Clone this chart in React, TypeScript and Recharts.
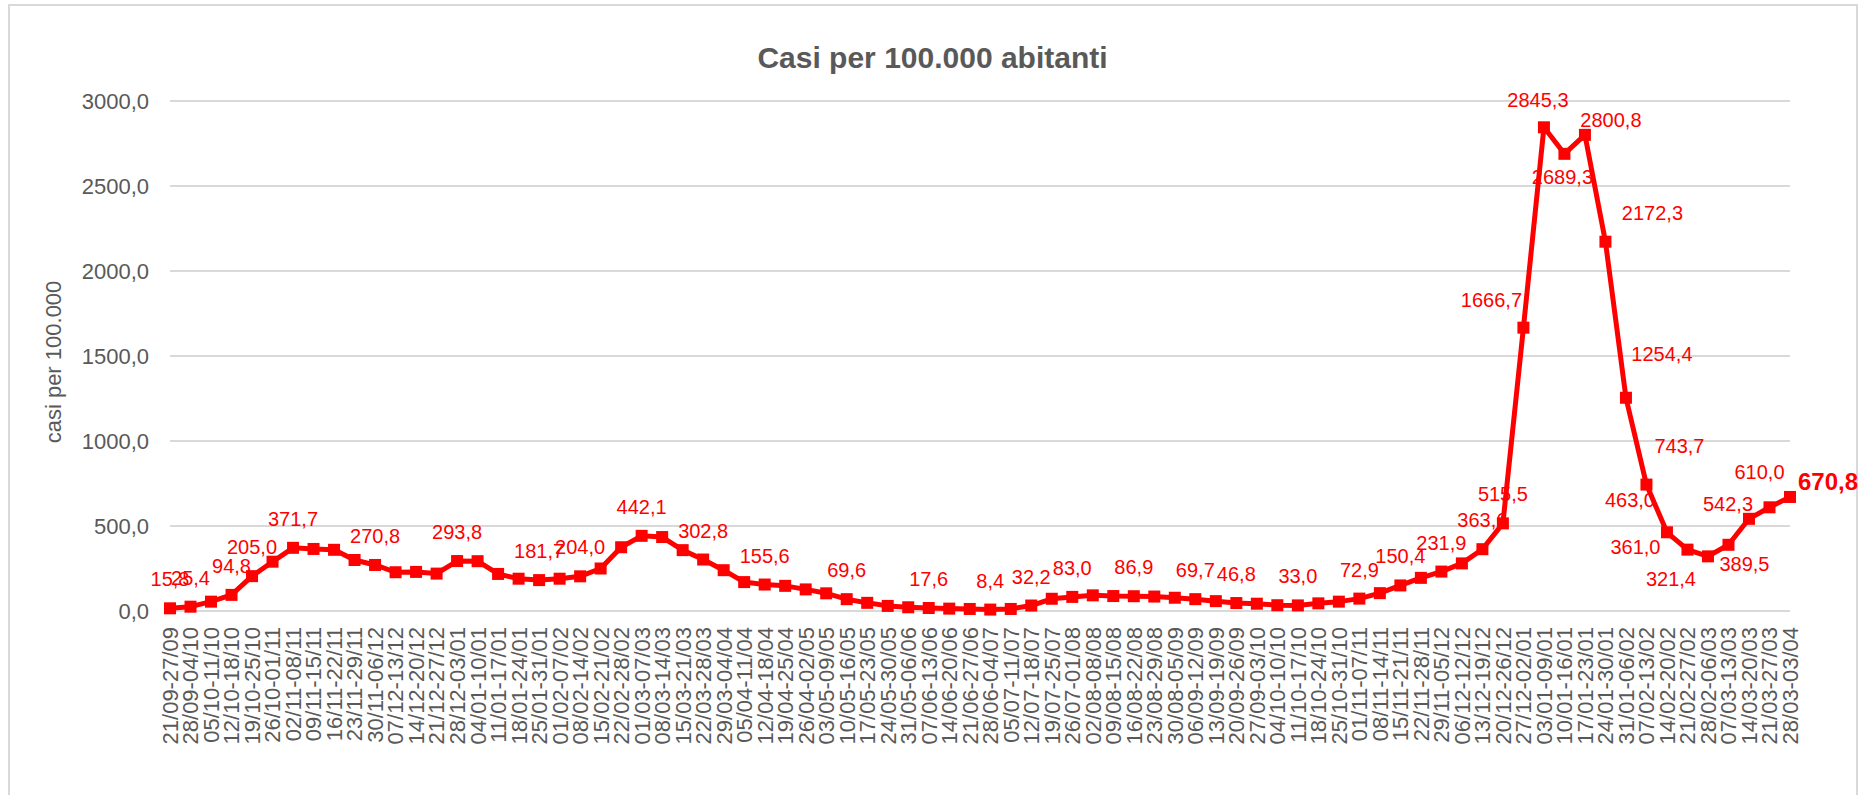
import React from 'react';
import { LineChart, Line, XAxis, YAxis, CartesianGrid } from 'recharts';

// Weekly periods
const weeks = [
  '21/09-27/09', '28/09-04/10', '05/10-11/10', '12/10-18/10', '19/10-25/10', '26/10-01/11',
  '02/11-08/11', '09/11-15/11', '16/11-22/11', '23/11-29/11', '30/11-06/12', '07/12-13/12',
  '14/12-20/12', '21/12-27/12', '28/12-03/01', '04/01-10/01', '11/01-17/01', '18/01-24/01',
  '25/01-31/01', '01/02-07/02', '08/02-14/02', '15/02-21/02', '22/02-28/02', '01/03-07/03',
  '08/03-14/03', '15/03-21/03', '22/03-28/03', '29/03-04/04', '05/04-11/04', '12/04-18/04',
  '19/04-25/04', '26/04-02/05', '03/05-09/05', '10/05-16/05', '17/05-23/05', '24/05-30/05',
  '31/05-06/06', '07/06-13/06', '14/06-20/06', '21/06-27/06', '28/06-04/07', '05/07-11/07',
  '12/07-18/07', '19/07-25/07', '26/07-01/08', '02/08-08/08', '09/08-15/08', '16/08-22/08',
  '23/08-29/08', '30/08-05/09', '06/09-12/09', '13/09-19/09', '20/09-26/09', '27/09-03/10',
  '04/10-10/10', '11/10-17/10', '18/10-24/10', '25/10-31/10', '01/11-07/11', '08/11-14/11',
  '15/11-21/11', '22/11-28/11', '29/11-05/12', '06/12-12/12', '13/12-19/12', '20/12-26/12',
  '27/12-02/01', '03/01-09/01', '10/01-16/01', '17/01-23/01', '24/01-30/01', '31/01-06/02',
  '07/02-13/02', '14/02-20/02', '21/02-27/02', '28/02-06/03', '07/03-13/03', '14/03-20/03',
  '21/03-27/03', '28/03-03/04',
];

// casi per 100.000 abitanti
const casi = [
  15.8, 25.4, 55, 94.8, 205.0, 290, 371.7, 365, 360, 300,
  270.8, 228, 230, 220, 293.8, 293, 218, 190, 181.7, 190,
  204.0, 250, 375, 442.1, 435, 358, 302.8, 240, 170, 155.6,
  148, 127, 104, 69.6, 48, 30, 22, 17.6, 14, 12,
  8.4, 12, 32.2, 72, 83.0, 92, 88, 86.9, 85, 78,
  69.7, 58, 46.8, 43, 34, 33.0, 45, 55, 72.9, 105,
  150.4, 195, 231.9, 280, 363.6, 515.5, 1666.7, 2845.3, 2689.3, 2800.8,
  2172.3, 1254.4, 743.7, 463.0, 361.0, 321.4, 389.5, 542.3, 610.0, 670.8,
];

// which points carry a data label
const labeled = [
  0, 1, 3, 4, 6, 10, 14, 18, 20, 23, 26, 29, 33, 37, 40, 42, 44, 47, 50, 52,
  55, 58, 60, 62, 64, 65, 66, 67, 68, 69, 70, 71, 72, 73, 74, 75, 76, 77, 78, 79,
];

const yTicks = [0, 500, 1000, 1500, 2000, 2500, 3000];

// label placement (offset of label centre from the point), default is above
const labelPos: Record<number, { dx: number; dy: number }> = {
  66: { dx: -32, dy: -28 },
  67: { dx: -6, dy: -27 },
  68: { dx: -2, dy: 23 },
  69: { dx: 26, dy: -15 },
  70: { dx: 47, dy: -29 },
  71: { dx: 36, dy: -44 },
  72: { dx: 33, dy: -39 },
  73: { dx: -37, dy: -32 },
  74: { dx: -52, dy: -3 },
  75: { dx: -37, dy: 23 },
  76: { dx: 16, dy: 19 },
  77: { dx: -21, dy: -15 },
  78: { dx: -10, dy: -35 },
  79: { dx: 38, dy: -15 },
};

const FONT = '"Liberation Sans", Arial, sans-serif';
const GRAY = '#595959';
const RED = '#ff0000';

const fmt = (v: number) => v.toFixed(1).replace('.', ',');

const data = weeks.map((w, i) => ({ name: w, value: casi[i] }));

const XTick = (props: any) => {
  const { x, y, payload } = props;
  return (
    <text
      x={x}
      y={y}
      transform={`rotate(-90, ${x}, ${y})`}
      textAnchor="end"
      dy="0.36em"
      fill={GRAY}
      fontSize={22}
      fontFamily={FONT}
    >
      {payload.value}
    </text>
  );
};

const SquareDot = (props: any) => {
  const { cx, cy, index } = props;
  if (cx == null || cy == null) return <g key={`d-${index}`} />;
  return <rect key={`d-${index}`} x={cx - 6} y={cy - 6} width={12} height={12} fill={RED} />;
};

const LabelDot = (props: any) => {
  const { cx, cy, index, payload } = props;
  if (!labeled.includes(index) || cx == null) return <g key={`l-${index}`} />;
  const pos = labelPos[index] ?? { dx: 0, dy: -29 };
  const last = index === casi.length - 1;
  return (
    <text
      key={`l-${index}`}
      x={cx + pos.dx}
      y={cy + pos.dy}
      textAnchor="middle"
      dominantBaseline="central"
      fill={RED}
      fontSize={last ? 24 : 20}
      fontWeight={last ? 700 : 400}
      fontFamily={FONT}
    >
      {fmt(payload.value)}
    </text>
  );
};

export default function App() {
  return (
    <div
      style={{
        position: 'absolute',
        left: 0,
        top: 0,
        width: 1865,
        height: 795,
        overflow: 'hidden',
        background: '#fff',
        fontFamily: FONT,
      }}
    >
      <div
        style={{
          position: 'absolute',
          left: 8,
          top: 4,
          width: 1846,
          height: 820,
          border: '2px solid #d9d9d9',
        }}
      />
      <div
        style={{
          position: 'absolute',
          left: 0,
          top: 43,
          width: 1865,
          textAlign: 'center',
          fontSize: 30,
          lineHeight: 1,
          fontWeight: 700,
          color: GRAY,
        }}
      >
        Casi per 100.000 abitanti
      </div>
      <div
        style={{
          position: 'absolute',
          left: 54,
          top: 362,
          transform: 'translate(-50%, -50%) rotate(-90deg)',
          whiteSpace: 'nowrap',
          fontSize: 22,
          color: GRAY,
        }}
      >
        casi per 100.000
      </div>
      <div style={{ position: 'absolute', left: 0, top: 0 }}>
        <LineChart
          width={1865}
          height={795}
          data={data}
          margin={{ top: 101, right: 75, bottom: 0, left: 0 }}
        >
          <CartesianGrid vertical={false} stroke="#d9d9d9" strokeWidth={2} />
          <XAxis
            dataKey="name"
            interval={0}
            height={184}
            axisLine={false}
            tickLine={false}
            tickSize={0}
            tickMargin={16}
            tick={<XTick />}
          />
          <YAxis
            domain={[0, 3000]}
            ticks={yTicks}
            width={170}
            axisLine={false}
            tickLine={false}
            tickSize={0}
            tickMargin={21}
            tickFormatter={fmt}
            tick={{ fill: GRAY, fontSize: 22, fontFamily: FONT }}
          />
          <Line
            dataKey="value"
            stroke="none"
            dot={LabelDot}
            activeDot={false}
            isAnimationActive={false}
          />
          <Line
            dataKey="value"
            stroke={RED}
            strokeWidth={5}
            strokeLinejoin="round"
            dot={SquareDot}
            activeDot={false}
            isAnimationActive={false}
          />
        </LineChart>
      </div>
    </div>
  );
}
